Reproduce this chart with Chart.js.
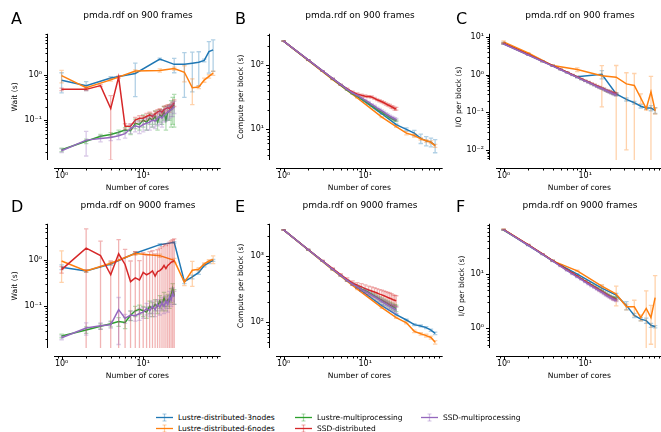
<!DOCTYPE html>
<html>
<head>
<meta charset="utf-8">
<script src="https://cdn.jsdelivr.net/npm/chart.js@4.4.1/dist/chart.umd.min.js"></script>
<style>
  html, body { margin: 0; padding: 0; background: #fff; overflow: hidden; width: 661px; height: 432px; }
  body { position: relative; font-family: "DejaVu Sans", sans-serif; color: #000; }
  canvas { position: absolute; }
  .ptitle { position: absolute; font-size: 9px; white-space: nowrap; transform: translate(-50%, -50%); }
  .letter { position: absolute; font-size: 16px; line-height: 16px; }
  .leg { position: absolute; font-size: 7.5px; white-space: nowrap; line-height: 9px; }
  .leg svg { position: absolute; left: -22px; top: 0; }
</style>
</head>
<body>
<script>
// series
var seriesNames = ['Lustre-distributed-3nodes', 'Lustre-distributed-6nodes', 'Lustre-multiprocessing', 'SSD-distributed', 'SSD-multiprocessing'];
var seriesColors = ['#1f77b4', '#ff7f0e', '#2ca02c', '#d62728', '#9467bd'];

// number of cores
var coresDistributed = [1, 2, 4, 8, 16, 24, 32, 40, 48, 56, 64, 72];
var coresSingleNode = [1, 2, 3, 4, 5, 6, 7, 8, 9, 10, 11, 12, 13, 14, 15, 16, 17, 18, 19, 20, 21, 22, 23, 24];

// tick labels
var xMajorTicks = [1, 10];
var xTickLabels = ['10\u2070', '10\u00b9'];
var waitMajorTicks = [0.1, 1];
var waitTickLabels = ['10\u207b\u00b9', '10\u2070'];
var computeMajorTicksB = [10, 100];
var computeTickLabelsB = ['10\u00b9', '10\u00b2'];
var ioMajorTicksC = [0.01, 0.1, 1, 10];
var ioTickLabelsC = ['10\u207b\u00b2', '10\u207b\u00b9', '10\u2070', '10\u00b9'];
var computeMajorTicksE = [100, 1000];
var computeTickLabelsE = ['10\u00b2', '10\u00b3'];
var ioMajorTicksF = [1, 10];
var ioTickLabelsF = ['10\u2070', '10\u00b9'];

// A: wait, 900 frames
var waitA_l3 = [0.76, 0.58, 0.86, 1.08, 2.25, 1.72, 1.72, 1.82, 1.92, 2.1, 3.3, 3.6];
var waitA_l3Err = [0.36, 0.13, 0.06, 0.75, 0.12, 0.6, 1.4, 1.4, 1.35, 0.15, 2.2, 2.4];
var waitA_l6 = [0.97, 0.52, 0.78, 1.22, 1.26, 1.39, 1.15, 0.52, 0.54, 0.77, 0.93, 1.1];
var waitA_l6Err = [0.3, 0.04, 0.05, 0.08, 0.1, 0.1, 0.45, 0.3, 0.04, 0.08, 0.08, 0.12];
var waitA_lmp = [0.022, 0.034, 0.044, 0.048, 0.054, 0.06, 0.058, 0.085, 0.08, 0.1, 0.09, 0.11, 0.1, 0.12, 0.09, 0.13, 0.12, 0.15, 0.1, 0.15, 0.16, 0.17, 0.2, 0.22];
var waitA_lmpErr = [0.002, 0.004, 0.004, 0.005, 0.006, 0.008, 0.01, 0.02, 0.02, 0.03, 0.03, 0.03, 0.03, 0.04, 0.03, 0.04, 0.04, 0.05, 0.04, 0.05, 0.06, 0.1, 0.12, 0.15];
var waitA_ssd = [0.48, 0.48, 0.58, 0.18, 0.9, 0.073, 0.073, 0.1, 0.11, 0.11, 0.12, 0.13, 0.12, 0.137, 0.15, 0.16, 0.15, 0.17, 0.18, 0.19, 0.18, 0.2, 0.22, 0.24];
var waitA_ssdErr = [0.03, 0.03, 0.03, 0.167, 0.05, 0.01, 0.01, 0.015, 0.015, 0.015, 0.02, 0.02, 0.02, 0.02, 0.02, 0.02, 0.02, 0.03, 0.03, 0.03, 0.03, 0.03, 0.03, 0.04];
var waitA_smp = [0.021, 0.036, 0.039, 0.041, 0.045, 0.05, 0.065, 0.075, 0.07, 0.08, 0.085, 0.09, 0.1, 0.095, 0.11, 0.12, 0.11, 0.13, 0.14, 0.15, 0.16, 0.17, 0.18, 0.2];
var waitA_smpErr = [0.002, 0.02, 0.006, 0.006, 0.008, 0.01, 0.015, 0.02, 0.02, 0.025, 0.025, 0.03, 0.03, 0.03, 0.035, 0.04, 0.04, 0.04, 0.045, 0.05, 0.05, 0.05, 0.06, 0.06];

// B: compute per block, 900 frames
var computeB_l3 = [240, 122, 62, 33, 17.5, 11.8, 10, 8.7, 7.2, 6.6, 6.3, 5.6];
var computeB_l3Err = [1.5, 1, 0.6, 0.4, 0.3, 0.3, 0.5, 0.9, 1.2, 1.1, 1.0, 1.3];
var computeB_l6 = [240, 120, 60, 31, 15.5, 11, 8.7, 8.0, 7.1, 6.6, 6.3, 5.5];
var computeB_l6Err = [1.5, 1, 0.5, 0.3, 0.3, 0.3, 0.5, 0.5, 0.3, 0.3, 0.3, 0.3];
var computeB_lmp = [240, 121, 81, 61, 49, 41, 36, 33, 30, 27.5, 25.5, 23.5, 22, 20.5, 19.5, 18.5, 17.5, 16.8, 16, 15.3, 14.8, 14.3, 13.9, 13.6];
var computeB_lmpErr = [1, 0.8, 0.6, 0.5, 0.5, 0.4, 0.4, 0.4, 0.4, 0.4, 0.4, 0.4, 0.4, 0.4, 0.4, 0.4, 0.4, 0.4, 0.4, 0.4, 0.4, 0.4, 0.4, 0.4];
var computeB_ssd = [240, 122, 82, 62, 50, 43, 38.5, 35.5, 34, 33, 32.5, 32, 30.5, 29, 28, 27, 26, 25, 24, 23.5, 22.5, 22, 21, 21];
var computeB_ssdErr = [1, 1, 1, 1, 1, 1.2, 1.2, 1.5, 1.5, 1.5, 1.2, 1.2, 1.2, 1, 1, 1, 1, 1, 1, 1, 1, 1, 1, 1];
var computeB_smp = [240, 122, 82, 62, 50, 42, 37, 34, 31, 28.5, 26.5, 24.5, 23, 21.5, 20.5, 19.5, 18.5, 17.5, 16.8, 16.1, 15.5, 15, 14.6, 14.2];
var computeB_smpErr = [1, 0.8, 0.8, 0.6, 0.6, 0.6, 0.7, 0.8, 0.8, 0.8, 0.8, 0.8, 0.8, 0.7, 0.7, 0.7, 0.7, 0.7, 0.6, 0.6, 0.6, 0.6, 0.6, 0.6];

// C: I/O per block, 900 frames
var ioC_l3 = [7.0, 3.6, 1.75, 0.88, 1.03, 0.31, 0.22, 0.18, 0.145, 0.13, 0.13, 0.113];
var ioC_l3Err = [0.4, 0.1, 0.05, 0.04, 0.25, 0.02, 0.02, 0.015, 0.015, 0.01, 0.02, 0.02];
var ioC_l6 = [7.5, 3.8, 1.75, 1.37, 0.94, 0.86, 0.57, 0.52, 0.24, 0.125, 0.35, 0.11];
var ioC_l6Err = [0.5, 0.1, 0.06, 0.15, 0.8, 0.9, 0.56, 0.56, 0.07, 0.01, 0.55, 0.02];
var ioC_lmp = [6.7, 3.4, 2.27, 1.72, 1.37, 1.15, 0.98, 0.86, 0.76, 0.69, 0.63, 0.57, 0.53, 0.49, 0.46, 0.43, 0.41, 0.38, 0.36, 0.35, 0.33, 0.32, 0.31, 0.3];
var ioC_lmpErr = [0.2, 0.08, 0.05, 0.04, 0.03, 0.03, 0.02, 0.02, 0.02, 0.02, 0.02, 0.02, 0.02, 0.02, 0.02, 0.02, 0.02, 0.02, 0.02, 0.02, 0.02, 0.02, 0.02, 0.02];
var ioC_ssd = [6.8, 3.45, 2.3, 1.75, 1.4, 1.17, 1.0, 0.88, 0.78, 0.7, 0.64, 0.59, 0.54, 0.5, 0.47, 0.44, 0.42, 0.39, 0.37, 0.36, 0.34, 0.33, 0.32, 0.31];
var ioC_ssdErr = [0.2, 0.08, 0.05, 0.04, 0.03, 0.03, 0.02, 0.02, 0.02, 0.02, 0.02, 0.02, 0.02, 0.02, 0.02, 0.02, 0.02, 0.02, 0.02, 0.02, 0.02, 0.02, 0.02, 0.02];
var ioC_smp = [6.6, 3.35, 2.25, 1.7, 1.36, 1.13, 0.97, 0.85, 0.75, 0.68, 0.62, 0.57, 0.52, 0.48, 0.45, 0.43, 0.4, 0.38, 0.36, 0.34, 0.33, 0.31, 0.3, 0.29];
var ioC_smpErr = [0.2, 0.08, 0.05, 0.04, 0.03, 0.03, 0.02, 0.02, 0.02, 0.02, 0.02, 0.02, 0.02, 0.02, 0.02, 0.02, 0.02, 0.02, 0.02, 0.02, 0.02, 0.02, 0.02, 0.02];

// D: wait, 9000 frames
var waitD_l3 = [0.7, 0.58, 0.82, 1.4, 2.14, 2.4, 0.34, 0.43, 0.54, 0.76, 0.88, 0.98];
var waitD_l3Err = [0.08, 0.04, 0.05, 0.1, 0.1, 0.1, 0.03, 0.04, 0.05, 0.05, 0.05, 0.05];
var waitD_l6 = [0.95, 0.58, 0.85, 1.38, 1.24, 0.98, 0.33, 0.6, 0.63, 0.82, 0.95, 1.03];
var waitD_l6Err = [0.62, 0.04, 0.05, 0.1, 0.1, 0.1, 0.05, 0.33, 0.05, 0.05, 0.06, 0.2];
var waitD_lmp = [0.023, 0.031, 0.037, 0.042, 0.047, 0.045, 0.064, 0.08, 0.086, 0.08, 0.075, 0.1, 0.09, 0.11, 0.1, 0.13, 0.11, 0.15, 0.12, 0.14, 0.13, 0.18, 0.24, 0.17];
var waitD_lmpErr = [0.002, 0.005, 0.005, 0.006, 0.01, 0.012, 0.015, 0.02, 0.02, 0.02, 0.02, 0.03, 0.03, 0.03, 0.03, 0.04, 0.03, 0.05, 0.04, 0.04, 0.04, 0.06, 0.07, 0.06];
var waitD_ssd = [0.62, 1.8, 1.24, 0.48, 1.36, 0.8, 0.34, 0.41, 0.37, 0.54, 0.48, 0.52, 0.58, 0.45, 0.56, 0.59, 0.65, 0.76, 0.65, 0.76, 0.82, 0.89, 0.93, 0.95];
var waitD_ssdErr = [0.1, 2.9, 1.3, 0.47, 1.4, 0.9, 0.61, 1.1, 0.6, 0.9, 0.8, 1.0, 1.0, 0.9, 1.1, 1.2, 1.3, 1.4, 1.4, 1.5, 1.6, 1.7, 1.8, 1.9];
var waitD_smp = [0.021, 0.034, 0.038, 0.04, 0.085, 0.055, 0.065, 0.063, 0.07, 0.075, 0.09, 0.08, 0.1, 0.085, 0.11, 0.095, 0.12, 0.1, 0.13, 0.11, 0.16, 0.14, 0.19, 0.16];
var waitD_smpErr = [0.002, 0.01, 0.006, 0.006, 0.07, 0.012, 0.015, 0.015, 0.02, 0.02, 0.025, 0.02, 0.03, 0.025, 0.03, 0.03, 0.035, 0.03, 0.04, 0.035, 0.05, 0.04, 0.06, 0.05];

// E: compute per block, 9000 frames
var computeE_l3 = [2450, 1240, 630, 330, 178, 130, 108, 92, 88, 83, 76, 68];
var computeE_l3Err = [20, 10, 8, 5, 4, 3, 3, 3, 3, 3, 3, 3];
var computeE_l6 = [2450, 1220, 610, 315, 166, 117, 98, 73, 67, 63, 59, 50];
var computeE_l6Err = [20, 10, 8, 5, 4, 3, 3, 3, 3, 3, 3, 3];
var computeE_lmp = [2450, 1230, 830, 625, 505, 425, 375, 345, 315, 300, 282, 265, 250, 237, 225, 215, 205, 197, 190, 183, 177, 171, 166, 162];
var computeE_lmpErr = [15, 10, 10, 10, 10, 12, 14, 16, 18, 18, 18, 18, 18, 18, 18, 18, 18, 18, 18, 18, 18, 18, 18, 18];
var computeE_ssd = [2450, 1240, 840, 640, 520, 440, 390, 360, 340, 320, 305, 295, 285, 275, 265, 258, 250, 243, 236, 230, 224, 218, 214, 210];
var computeE_ssdErr = [20, 15, 15, 15, 20, 25, 30, 35, 40, 45, 45, 45, 45, 45, 45, 45, 45, 45, 45, 45, 45, 40, 40, 40];
var computeE_smp = [2450, 1230, 830, 625, 505, 425, 372, 340, 310, 292, 272, 255, 240, 228, 216, 205, 196, 188, 180, 173, 167, 162, 157, 153];
var computeE_smpErr = [15, 10, 10, 10, 10, 12, 14, 16, 18, 18, 18, 18, 18, 18, 18, 18, 18, 18, 18, 18, 18, 18, 18, 18];

// F: I/O per block, 9000 frames
var ioF_l3 = [66, 34, 17.5, 10, 5.5, 4.1, 2.65, 1.73, 1.48, 1.39, 1.14, 1.07];
var ioF_l3Err = [1, 0.5, 0.3, 0.2, 0.5, 0.3, 0.45, 0.15, 0.1, 0.15, 0.1, 0.05];
var ioF_l6 = [67, 34.5, 17.5, 11.5, 6.0, 4.3, 2.5, 2.5, 1.58, 2.33, 1.58, 3.7];
var ioF_l6Err = [1, 0.5, 0.3, 0.3, 0.4, 1.7, 0.3, 0.8, 0.2, 2.6, 1.07, 5.7];
var ioF_lmp = [65, 34.5, 23.3, 17.6, 14.2, 11.9, 10.3, 9.1, 8.2, 7.4, 6.8, 6.3, 5.9, 5.5, 5.15, 4.85, 4.6, 4.35, 4.15, 3.95, 3.8, 3.7, 3.6, 3.5];
var ioF_lmpErr = [0.8, 0.5, 0.3, 0.3, 0.2, 0.2, 0.2, 0.2, 0.15, 0.15, 0.15, 0.15, 0.15, 0.15, 0.15, 0.15, 0.15, 0.15, 0.15, 0.15, 0.15, 0.15, 0.15, 0.15];
var ioF_ssd = [66, 35, 23.5, 17.8, 14.3, 12, 10.4, 9.2, 8.2, 7.4, 6.8, 6.2, 5.8, 5.4, 5.0, 4.75, 4.5, 4.25, 4.05, 3.85, 3.7, 3.55, 3.45, 3.35];
var ioF_ssdErr = [0.8, 0.5, 0.3, 0.3, 0.2, 0.2, 0.2, 0.2, 0.15, 0.15, 0.15, 0.15, 0.15, 0.15, 0.15, 0.15, 0.15, 0.15, 0.15, 0.15, 0.15, 0.15, 0.15, 0.15];
var ioF_smp = [65, 34, 23, 17.3, 13.9, 11.6, 10, 8.8, 7.9, 7.1, 6.5, 6, 5.6, 5.2, 4.9, 4.6, 4.35, 4.1, 3.9, 3.75, 3.6, 3.45, 3.35, 3.25];
var ioF_smpErr = [0.8, 0.5, 0.3, 0.3, 0.2, 0.2, 0.2, 0.2, 0.15, 0.15, 0.15, 0.15, 0.15, 0.15, 0.15, 0.15, 0.15, 0.15, 0.15, 0.15, 0.15, 0.15, 0.15, 0.15];

var seriesCores = [coresDistributed, coresDistributed, coresSingleNode, coresSingleNode, coresSingleNode];

// panel layout (chart area in page pixels) and axis limits
var panels = [
  { letter: 'A', title: 'pmda.rdf on 900 frames', yLabel: 'Wait (s)', yMin: 0.01306, yMax: 8.17,
    majors: waitMajorTicks, labels: waitTickLabels, L: 54, T: 23, R: 222, B: 160, yTitleX: 15, letterX: 11, letterY: 11,
    values: [waitA_l3, waitA_l6, waitA_lmp, waitA_ssd, waitA_smp], errs: [waitA_l3Err, waitA_l6Err, waitA_lmpErr, waitA_ssdErr, waitA_smpErr] },
  { letter: 'B', title: 'pmda.rdf on 900 frames', yLabel: 'Compute per block (s)', yMin: 3.31, yMax: 312,
    majors: computeMajorTicksB, labels: computeTickLabelsB, L: 276, T: 23, R: 444, B: 160, yTitleX: 241, letterX: 235, letterY: 11,
    values: [computeB_l3, computeB_l6, computeB_lmp, computeB_ssd, computeB_smp], errs: [computeB_l3Err, computeB_l6Err, computeB_lmpErr, computeB_ssdErr, computeB_smpErr] },
  { letter: 'C', title: 'pmda.rdf on 900 frames', yLabel: 'I/O per block (s)', yMin: 0.00537, yMax: 12.3,
    majors: ioMajorTicksC, labels: ioTickLabelsC, L: 496, T: 23, R: 664, B: 160, yTitleX: 459, letterX: 456, letterY: 11,
    values: [ioC_l3, ioC_l6, ioC_lmp, ioC_ssd, ioC_smp], errs: [ioC_l3Err, ioC_l6Err, ioC_lmpErr, ioC_ssdErr, ioC_smpErr] },
  { letter: 'D', title: 'pmda.rdf on 9000 frames', yLabel: 'Wait (s)', yMin: 0.01262, yMax: 6.03,
    majors: waitMajorTicks, labels: waitTickLabels, L: 54, T: 213, R: 222, B: 348, yTitleX: 15, letterX: 11, letterY: 199,
    values: [waitD_l3, waitD_l6, waitD_lmp, waitD_ssd, waitD_smp], errs: [waitD_l3Err, waitD_l6Err, waitD_lmpErr, waitD_ssdErr, waitD_smpErr] },
  { letter: 'E', title: 'pmda.rdf on 9000 frames', yLabel: 'Compute per block (s)', yMin: 41, yMax: 3020,
    majors: computeMajorTicksE, labels: computeTickLabelsE, L: 276, T: 213, R: 444, B: 348, yTitleX: 241, letterX: 235, letterY: 199,
    values: [computeE_l3, computeE_l6, computeE_lmp, computeE_ssd, computeE_smp], errs: [computeE_l3Err, computeE_l6Err, computeE_lmpErr, computeE_ssdErr, computeE_smpErr] },
  { letter: 'F', title: 'pmda.rdf on 9000 frames', yLabel: 'I/O per block (s)', yMin: 0.435, yMax: 84.5,
    majors: ioMajorTicksF, labels: ioTickLabelsF, L: 496, T: 213, R: 664, B: 348, yTitleX: 462, letterX: 456, letterY: 199,
    values: [ioF_l3, ioF_l6, ioF_lmp, ioF_ssd, ioF_smp], errs: [ioF_l3Err, ioF_l6Err, ioF_lmpErr, ioF_ssdErr, ioF_smpErr] }
];

var xMin = 0.807, xMax = 89.1;

Chart.defaults.font.family = '"DejaVu Sans", sans-serif';
Chart.defaults.color = '#000';

function withAlpha(hex, a) {
  var n = parseInt(hex.slice(1), 16);
  return 'rgba(' + (n >> 16) + ',' + ((n >> 8) & 255) + ',' + (n & 255) + ',' + a + ')';
}

// log ticks: labelled majors plus 2..9 minors
function logTicks(majors, labels, min, max) {
  var out = [];
  var bases = [majors[0] / 10].concat(majors);
  bases.forEach(function (m, bi) {
    for (var k = 1; k <= 9; k++) {
      var v = k * m;
      if (v >= min * 0.9999 && v <= max * 1.0001) {
        out.push({ value: v, isMajor: k === 1 && bi > 0, lbl: (k === 1 && bi > 0) ? labels[bi - 1] : '' });
      }
    }
  });
  return out;
}

// matplotlib style error bars, drawn just before each line
var errorBarPlugin = {
  id: 'errorBars',
  beforeDatasetDraw: function (chart, args) {
    var ds = chart.data.datasets[args.index];
    if (!ds.err) return;
    var xs = chart.scales.x, ys = chart.scales.y, a = chart.chartArea, ctx = chart.ctx;
    ctx.save();
    ctx.beginPath();
    ctx.rect(a.left, a.top, a.right - a.left, a.bottom - a.top);
    ctx.clip();
    ctx.strokeStyle = withAlpha(ds.borderColor, 0.35);
    ctx.lineWidth = 1.3;
    ds.data.forEach(function (p, i) {
      var e = ds.err[i];
      var px = xs.getPixelForValue(p.x);
      var top = ys.getPixelForValue(p.y + e);
      var lowVal = p.y - e;
      var bot = lowVal > 0 ? ys.getPixelForValue(lowVal) : a.bottom + 20;
      ctx.beginPath();
      ctx.moveTo(px, top); ctx.lineTo(px, bot);
      ctx.moveTo(px - 2.2, top); ctx.lineTo(px + 2.2, top);
      if (lowVal > 0) { ctx.moveTo(px - 2.2, bot); ctx.lineTo(px + 2.2, bot); }
      ctx.stroke();
    });
    ctx.restore();
  }
};

// offset spines and tick marks
var spinePlugin = {
  id: 'spines',
  afterDraw: function (chart) {
    var ctx = chart.ctx, a = chart.chartArea;
    var xs = chart.scales.x, ys = chart.scales.y;
    var sx = Math.round(a.left - 7) + 0.5;
    var sy = Math.round(a.bottom + 8) + 0.5;
    ctx.save();
    ctx.strokeStyle = '#000';
    ctx.lineWidth = 1;
    ctx.beginPath();
    ctx.moveTo(sx, a.top); ctx.lineTo(sx, a.bottom);
    ctx.moveTo(a.left, sy); ctx.lineTo(a.right, sy);
    ys.ticks.forEach(function (t) {
      var p = Math.round(ys.getPixelForValue(t.value)) + 0.5;
      ctx.moveTo(sx, p); ctx.lineTo(sx - (t.isMajor ? 3.5 : 2), p);
    });
    xs.ticks.forEach(function (t) {
      var p = Math.round(xs.getPixelForValue(t.value)) + 0.5;
      ctx.moveTo(p, sy); ctx.lineTo(p, sy + (t.isMajor ? 3.5 : 2));
    });
    ctx.stroke();
    ctx.restore();
  }
};

var yAxisWidth = 54, xAxisHeight = 34, padTop = 6, padRight = 6;

panels.forEach(function (pn) {
  var canvas = document.createElement('canvas');
  var w = pn.R - pn.L + yAxisWidth + padRight;
  var h = pn.B - pn.T + padTop + xAxisHeight;
  canvas.width = w; canvas.height = h;
  canvas.style.left = (pn.L - yAxisWidth) + 'px';
  canvas.style.top = (pn.T - padTop) + 'px';
  canvas.style.width = w + 'px'; canvas.style.height = h + 'px';
  document.body.appendChild(canvas);

  var datasets = seriesNames.map(function (name, s) {
    return {
      label: name,
      data: seriesCores[s].map(function (c, i) { return { x: c, y: pn.values[s][i] }; }),
      err: pn.errs[s],
      borderColor: seriesColors[s],
      backgroundColor: seriesColors[s],
      borderWidth: 1.5,
      pointRadius: 0,
      tension: 0,
      fill: false,
      order: 5 - s
    };
  });

  new Chart(canvas.getContext('2d'), {
    type: 'line',
    data: { datasets: datasets },
    plugins: [errorBarPlugin, spinePlugin],
    options: {
      responsive: false,
      animation: false,
      devicePixelRatio: 1,
      layout: { padding: { left: 0, top: padTop, right: padRight, bottom: 0 } },
      plugins: { legend: { display: false }, tooltip: { enabled: false } },
      scales: {
        x: {
          type: 'logarithmic', position: 'bottom', min: xMin, max: xMax,
          grid: { display: false, drawTicks: false },
          border: { display: false },
          afterBuildTicks: function (scale) { scale.ticks = logTicks(xMajorTicks, xTickLabels, xMin, xMax); },
          afterFit: function (scale) { scale.height = xAxisHeight; },
          ticks: { autoSkip: false, maxRotation: 0, minRotation: 0, padding: 11, font: { size: 8 },
            callback: function (v, i, ticks) { return ticks[i].lbl; } },
          title: { display: true, text: 'Number of cores', font: { size: 7.6 }, padding: { top: 0, bottom: 1 } }
        },
        y: {
          type: 'logarithmic', position: 'left', min: pn.yMin, max: pn.yMax,
          grid: { display: false, drawTicks: false },
          border: { display: false },
          afterBuildTicks: function (scale) { scale.ticks = logTicks(pn.majors, pn.labels, pn.yMin, pn.yMax); },
          afterFit: function (scale) { scale.width = yAxisWidth; },
          ticks: { autoSkip: false, padding: 12, font: { size: 8 },
            callback: function (v, i, ticks) { return ticks[i].lbl; } },
          title: { display: true, text: pn.yLabel, font: { size: 7.6 },
            padding: { top: pn.yTitleX - (pn.L - yAxisWidth) - 4.5, bottom: 0 } }
        }
      }
    }
  });

  var t = document.createElement('div');
  t.className = 'ptitle';
  t.textContent = pn.title;
  t.style.left = ((pn.L + pn.R) / 2) + 'px';
  t.style.top = (pn.T - 8) + 'px';
  document.body.appendChild(t);

  var l = document.createElement('div');
  l.className = 'letter';
  l.textContent = pn.letter;
  l.style.left = pn.letterX + 'px';
  l.style.top = pn.letterY + 'px';
  document.body.appendChild(l);
});

// shared legend, filled column by column
var legendSlots = [[178, 413], [178, 424], [317, 413], [317, 424], [443, 413]];
seriesNames.forEach(function (name, s) {
  var d = document.createElement('div');
  d.className = 'leg';
  d.style.left = legendSlots[s][0] + 'px';
  d.style.top = legendSlots[s][1] + 'px';
  var c = seriesColors[s], fade = withAlpha(c, 0.4);
  d.innerHTML = '<svg width="17" height="9" viewBox="0 0 17 9">' +
    '<line x1="8.5" y1="1" x2="8.5" y2="8" stroke="' + fade + '" stroke-width="1.2"/>' +
    '<line x1="6.5" y1="1" x2="10.5" y2="1" stroke="' + fade + '" stroke-width="1"/>' +
    '<line x1="6.5" y1="8" x2="10.5" y2="8" stroke="' + fade + '" stroke-width="1"/>' +
    '<line x1="0" y1="4.5" x2="17" y2="4.5" stroke="' + c + '" stroke-width="1.3"/></svg>';
  d.appendChild(document.createTextNode(name));
  document.body.appendChild(d);
});
</script>
</body>
</html>
